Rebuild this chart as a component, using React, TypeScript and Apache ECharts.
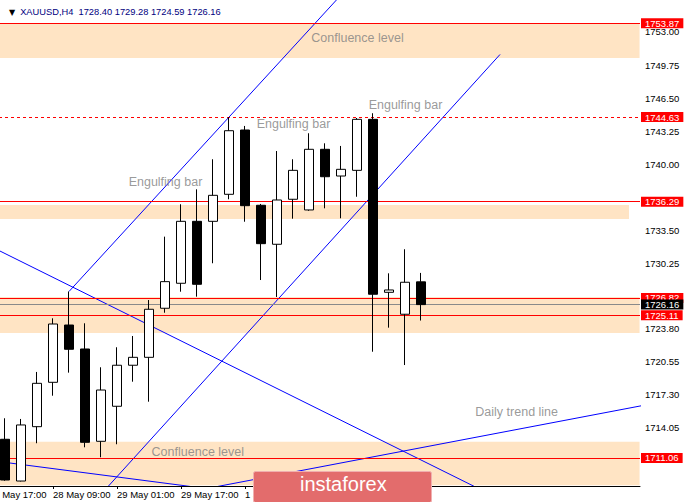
import React, { useEffect, useRef } from "react";
import * as echarts from "echarts";

const symbolName = "XAUUSD,H4";

// time slots (H4 bars); slot 0 has no visible bar
const timeLabels = [
  "27 May 17:00", "27 May 21:00", "28 May 01:00", "28 May 05:00", "28 May 09:00",
  "28 May 13:00", "28 May 17:00", "28 May 21:00", "29 May 01:00", "29 May 05:00",
  "29 May 09:00", "29 May 13:00", "29 May 17:00", "29 May 21:00", "1 Jun 01:00",
  "1 Jun 05:00", "1 Jun 09:00", "1 Jun 13:00", "1 Jun 17:00", "1 Jun 21:00",
  "2 Jun 01:00", "2 Jun 05:00", "2 Jun 09:00", "2 Jun 13:00", "2 Jun 17:00",
  "2 Jun 21:00", "3 Jun 01:00", "3 Jun 05:00",
];
const futureSlotCount = 13;
const labelledSlots = [0, 4, 8, 12, 16];

// OHLC of bars in slots 1..27
const opens = [
  1712.9, 1708.79, 1714.14, 1718.51, 1724.15, 1721.79, 1712.7, 1716.15, 1720.19,
  1720.97, 1725.8, 1728.26, 1734.36, 1734.36, 1737.02, 1743.35, 1735.94, 1732.1,
  1736.53, 1735.48, 1741.45, 1738.82, 1739.38, 1744.4, 1727.37, 1725.21, 1728.4,
];
const highs = [
  1714.97, 1714.9, 1719.53, 1724.81, 1727.45, 1724.32, 1719.99, 1721.96, 1723.07,
  1726.61, 1732.85, 1736.04, 1737.51, 1740.47, 1744.63, 1743.75, 1736.07, 1741.28,
  1740.47, 1743.03, 1742.04, 1741.78, 1744.53, 1745.0, 1729.24, 1731.61, 1729.28,
];
const lows = [
  1708.82, 1708.75, 1712.51, 1717.19, 1719.46, 1712.11, 1711.13, 1712.41, 1718.57,
  1716.6, 1725.36, 1727.43, 1726.94, 1730.23, 1736.53, 1734.32, 1728.58, 1726.91,
  1734.62, 1735.4, 1735.64, 1734.66, 1736.78, 1721.52, 1723.89, 1720.21, 1724.59,
];
const closes = [
  1708.89, 1714.31, 1718.41, 1724.25, 1721.76, 1712.6, 1717.75, 1720.19, 1720.97,
  1725.7, 1728.42, 1734.36, 1728.16, 1736.92, 1743.28, 1735.9, 1732.16, 1736.46,
  1739.38, 1741.45, 1738.75, 1739.48, 1744.4, 1727.18, 1727.6, 1728.36, 1726.16,
];

// price axis
const priceMin = 1708.3;
const priceMax = 1756.15;
const priceTicks = [
  1753.0, 1749.75, 1746.5, 1743.25, 1740.0, 1736.75, 1733.5, 1730.25, 1727.0,
  1723.8, 1720.55, 1717.3, 1714.05, 1710.8,
];
// tick labels not hidden behind the level boxes
const priceTickLabels = [
  1753.0, 1749.75, 1746.5, 1743.25, 1740.0, 1733.5, 1730.25,
  1723.8, 1720.55, 1717.3, 1714.05,
];

// horizontal levels
const redLevels = [1753.87, 1736.29, 1726.82];
const dashedLevel = 1744.63;
const bidLevel = 1726.16;
const redLevelsLow = [1725.11, 1711.06];

// shaded zones (price top / bottom / right end slot)
const zoneTops = [1753.87, 1735.97, 1726.9, 1712.66];
const zoneBottoms = [1750.44, 1734.59, 1723.37, 1708.38];
const zoneEnds = [40.66, 40.0, 40.66, 40.66];

// trend lines: [slot, price] pairs
const upperChannel = [[5, 1727.45], [22.5, 1757.5]];
const lowerChannel = [[6.94, 1707.38], [31.94, 1750.79]];
const descendingLine = [[0, 1731.97], [31.94, 1707.0]];
const lowDescLine = [[0, 1710.83], [13.19, 1708.13]];
const dailyTrendLine = [[13.81, 1708.11], [41.94, 1716.55]];

// annotations
const noteTexts = [
  "Engulfing bar", "Engulfing bar", "Engulfing bar",
  "Confluence level", "Confluence level", "Daily trend line",
];
const noteSlots = [11.03, 19.03, 26.03, 23.03, 13.05, 32.98];
const notePrices = [1738.26, 1743.91, 1745.78, 1752.38, 1711.62, 1715.62];

const FONT = "Liberation Sans, Arial, sans-serif";

export default function App() {
  const ref = useRef<HTMLDivElement>(null);

  useEffect(() => {
    if (!ref.current) return;
    const chart = echarts.init(ref.current, null, { renderer: "svg" });

    const futureLabels = Array.from({ length: futureSlotCount }, (_, i) => `+${i + 1}`);
    const categories = [...timeLabels, ...futureLabels];
    const candleData: any[] = [["-", "-", "-", "-"]];
    for (let i = 0; i < opens.length; i++) {
      candleData.push([opens[i], closes[i], lows[i], highs[i]]);
    }
    const last = opens.length - 1;
    const header = `${symbolName}  ${opens[last].toFixed(2)} ${highs[last].toFixed(2)} ${lows[last].toFixed(2)} ${closes[last].toFixed(2)}`;

    const showSlot = (idx: number) => labelledSlots.indexOf(idx) >= 0;

    const levelLabel = (bg: string) => ({
      show: true,
      position: "end",
      distance: 1,
      formatter: (p: any) => Number(p.value).toFixed(2),
      color: "#ffffff",
      backgroundColor: bg,
      padding: [1, 4, 1, 4],
      fontSize: 9.5,
      lineHeight: 8,
      fontFamily: FONT,
    });

    const markLineData: any[] = [];
    redLevels.forEach((v) =>
      markLineData.push({ yAxis: v, lineStyle: { color: "#ff0000", width: 1, type: "solid" }, label: levelLabel("#ff0000") })
    );
    markLineData.push({ yAxis: dashedLevel, lineStyle: { color: "#ff0000", width: 1, type: [3, 3] }, label: levelLabel("#ff0000") });
    markLineData.push({ yAxis: bidLevel, lineStyle: { color: "#8a8a8a", width: 1, type: "solid" }, label: levelLabel("#000000") });
    redLevelsLow.forEach((v) =>
      markLineData.push({ yAxis: v, lineStyle: { color: "#ff0000", width: 1, type: "solid" }, label: levelLabel("#ff0000") })
    );

    const zoneData = zoneTops.map((t, i) => [
      { coord: [-0.5, t] },
      { coord: [zoneEnds[i], zoneBottoms[i]] },
    ]);

    const trendSeries = (data: number[][], extra: any = {}) => ({
      type: "line",
      xAxisIndex: 0,
      yAxisIndex: 0,
      data,
      symbol: "none",
      silent: true,
      clip: true,
      z: 3,
      lineStyle: { color: "#0000ff", width: 1 },
      ...extra,
    });

    const option: any = {
      animation: false,
      backgroundColor: "#ffffff",
      title: {
        left: 9,
        top: 3,
        padding: 0,
        text: `{tri|▼} {t|${header}}`,
        textStyle: {
          fontWeight: "normal",
          rich: {
            tri: { fontSize: 8, color: "#000000", fontFamily: "DejaVu Sans", fontWeight: "normal" },
            t: { fontSize: 9.3, color: "#000080", fontFamily: FONT, fontWeight: "normal" },
          },
        },
      },
      grid: [
        { left: -19, right: 44, top: 0, bottom: 16, containLabel: false, outerBoundsMode: "none" },
        { left: -19, right: 47, top: 0, bottom: 16, containLabel: false, outerBoundsMode: "none" },
      ],
      xAxis: [
        {
          type: "value",
          gridIndex: 0,
          min: -0.5,
          max: 40.6875,
          z: 20,
          axisLine: { show: true, onZero: false, lineStyle: { color: "#000000", width: 1 } },
          axisTick: { show: false },
          axisLabel: { show: false },
          splitLine: { show: false },
        },
        {
          type: "category",
          gridIndex: 1,
          data: categories,
          boundaryGap: true,
          axisLine: { show: false, onZero: false },
          axisTick: {
            show: true,
            alignWithLabel: true,
            interval: (idx: number) => showSlot(idx),
            length: 3,
            lineStyle: { color: "#000000" },
          },
          axisLabel: {
            interval: (idx: number) => showSlot(idx),
            align: "left",
            margin: 3,
            color: "#000000",
            fontSize: 9.5,
            fontFamily: FONT,
          },
          splitLine: { show: false },
        },
      ],
      yAxis: [
        {
          type: "value",
          gridIndex: 0,
          position: "right",
          min: priceMin,
          max: priceMax,
          axisLine: { show: true, lineStyle: { color: "#000000", width: 1 } },
          axisTick: { show: true, length: 4, customValues: priceTicks, lineStyle: { color: "#000000" } },
          axisLabel: {
            customValues: priceTickLabels,
            formatter: (v: number) => Number(v).toFixed(2),
            margin: 5,
            color: "#000000",
            fontSize: 9.5,
            lineHeight: 8,
            fontFamily: FONT,
          },
          splitLine: { show: false },
        },
        {
          type: "value",
          gridIndex: 1,
          position: "right",
          min: priceMin,
          max: priceMax,
          show: false,
          axisLine: { show: false },
          axisTick: { show: false },
          axisLabel: { show: false },
          splitLine: { show: false },
        },
      ],
      series: [
        trendSeries(upperChannel, {
          markArea: {
            silent: true,
            itemStyle: { color: "#FFE4C4" },
            data: zoneData,
          },
          markLine: {
            silent: true,
            symbol: ["none", "none"],
            data: markLineData,
          },
        }),
        trendSeries(lowerChannel),
        trendSeries(descendingLine),
        trendSeries(lowDescLine),
        trendSeries(dailyTrendLine),
        {
          type: "candlestick",
          xAxisIndex: 1,
          yAxisIndex: 1,
          z: 10,
          silent: true,
          barWidth: 9,
          data: candleData,
          itemStyle: {
            color: "#ffffff",
            color0: "#000000",
            borderColor: "#000000",
            borderColor0: "#000000",
            borderWidth: 1,
          },
        },
        {
          type: "scatter",
          xAxisIndex: 0,
          yAxisIndex: 0,
          z: 20,
          silent: true,
          symbol: "circle",
          symbolSize: 1,
          itemStyle: { color: "rgba(0,0,0,0)" },
          label: {
            show: true,
            position: "inside",
            color: "#808080",
            fontSize: 12.5,
            fontFamily: FONT,
          },
          data: noteTexts.map((t, i) => ({
            value: [noteSlots[i], notePrices[i]],
            label: { formatter: t },
          })),
        },
      ],
      graphic: [
        {
          type: "rect",
          left: 253,
          top: 471,
          z: 100,
          shape: { x: 0, y: 0, width: 178, height: 31, r: 2 },
          style: { fill: "#E36C6C", stroke: "#F0B0B0", lineWidth: 1 },
        },
        {
          type: "text",
          left: 300,
          top: 474,
          z: 101,
          style: {
            text: "instaforex",
            fill: "#ffffff",
            fontSize: 20,
            fontFamily: FONT,
          },
        },
      ],
    };

    chart.setOption(option);
    return () => chart.dispose();
  }, []);

  return (
    <div
      ref={ref}
      style={{ position: "fixed", left: 0, top: 0, width: 684, height: 502, background: "#ffffff" }}
    />
  );
}
